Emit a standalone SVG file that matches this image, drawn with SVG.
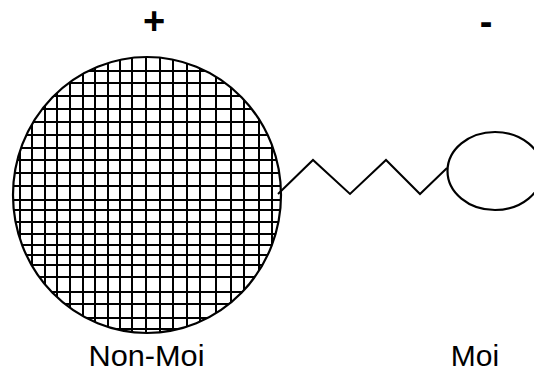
<svg xmlns="http://www.w3.org/2000/svg" width="534" height="372" viewBox="0 0 534 372">
<style>
.outline{fill:none;stroke:#000;stroke-width:2.2}
.grid{stroke:#000;stroke-width:2}
.lbl{font-family:"Liberation Sans",Arial,sans-serif;font-size:30px;fill:#000;text-anchor:middle}
.sign{font-family:"Liberation Sans",Arial,sans-serif;font-size:38px;font-weight:bold;fill:#000;text-anchor:middle}
.wire{fill:none;stroke:#000;stroke-width:2;stroke-linejoin:miter}
</style>
<defs>
<clipPath id="bigclip"><ellipse cx="147" cy="195" rx="134" ry="138"/></clipPath>
</defs>
<rect width="534" height="372" fill="#fff"/>
<g id="non-moi">
<g clip-path="url(#bigclip)" class="grid">
<path d="M20 40V340M32 40V340M45 40V340M57 40V340M70 40V340M83 40V340M95 40V340M108 40V340M120 40V340M132 40V340M146 40V340M160 40V340M173 40V340M187 40V340M200 40V340M216 40V340M231 40V340M244 40V340M259 40V340M272 40V340"/>
<path d="M0 71H300M0 83H300M0 96H300M0 109H300M0 122H300M0 135H300M0 148H300M0 160H300M0 173H300M0 186H300M0 200H300M0 210H300M0 222H300M0 234H300M0 245H300M0 255H300M0 265H300M0 277H300M0 292H300M0 304H300M0 318H300M0 329H300"/>
</g>
<ellipse class="outline" cx="147" cy="195" rx="134" ry="138"/>
<text class="sign" x="154" y="34">+</text>
<text class="lbl" x="146.5" y="365.5" textLength="116" lengthAdjust="spacingAndGlyphs">Non-Moi</text>
</g>
<g id="moi">
<ellipse class="outline" cx="495" cy="171" rx="47.5" ry="39"/>
<text class="sign" x="486" y="35">-</text>
<text class="lbl" x="475" y="365.5">Moi</text>
</g>
<g id="connectors">
<polyline class="wire" points="278,194 313,160 350,194 386,160 420,194 447,168"/>
</g>
</svg>
